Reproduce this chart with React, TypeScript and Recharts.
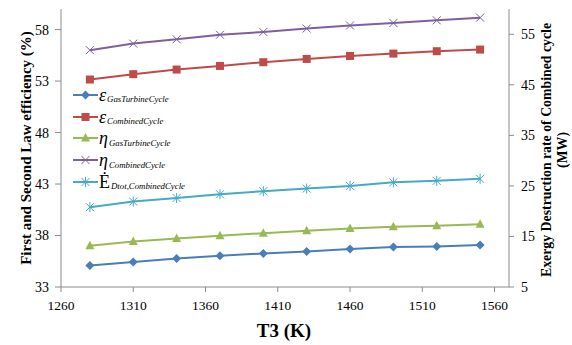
import { LineChart, Line, XAxis, YAxis, Legend } from 'recharts';

// Turbine inlet temperature (K)
const T3 = [1280, 1310, 1340, 1370, 1400, 1430, 1460, 1490, 1520, 1550];

// Efficiencies (%), left axis
const EPS_GT = [35.1, 35.42, 35.77, 36.03, 36.26, 36.45, 36.68, 36.88, 36.93, 37.07];
const EPS_CC = [53.15, 53.67, 54.12, 54.47, 54.83, 55.15, 55.44, 55.67, 55.9, 56.06];
const ETA_GT = [37.0, 37.42, 37.71, 37.97, 38.23, 38.46, 38.68, 38.84, 38.94, 39.1];
const ETA_CC = [56.0, 56.64, 57.06, 57.5, 57.77, 58.1, 58.4, 58.64, 58.9, 59.16];

// Total exergy destruction of the combined cycle (MW), right axis
const ED_CC = [20.8, 21.9, 22.6, 23.35, 23.95, 24.47, 25.0, 25.7, 26.0, 26.4];

const X_TICKS = [1260, 1310, 1360, 1410, 1460, 1510, 1560];
const LEFT_TICKS = [33, 38, 43, 48, 53, 58];
const RIGHT_TICKS = [5, 15, 25, 35, 45, 55];

const data = T3.map((t, i) => ({
  t,
  epsGT: EPS_GT[i],
  epsCC: EPS_CC[i],
  etaGT: ETA_GT[i],
  etaCC: ETA_CC[i],
  edCC: ED_CC[i],
}));

type Shape = 'diamond' | 'square' | 'triangle' | 'cross' | 'star';

const SERIES: {
  key: string;
  color: string;
  shape: Shape;
  axis: string;
  sym: string;
  sub: string;
  italic: boolean;
}[] = [
  { key: 'epsGT', color: '#4a7ebb', shape: 'diamond', axis: 'left', sym: 'ε', sub: 'GasTurbineCycle', italic: true },
  { key: 'epsCC', color: '#be4b48', shape: 'square', axis: 'left', sym: 'ε', sub: 'CombinedCycle', italic: true },
  { key: 'etaGT', color: '#98b954', shape: 'triangle', axis: 'left', sym: 'η', sub: 'GasTurbineCycle', italic: true },
  { key: 'etaCC', color: '#7d60a0', shape: 'cross', axis: 'left', sym: 'η', sub: 'CombinedCycle', italic: true },
  { key: 'edCC', color: '#46aac5', shape: 'star', axis: 'right', sym: 'Ė', sub: 'Dtot,CombinedCycle', italic: false },
];

const SERIF = '"Liberation Serif", "Times New Roman", serif';
const AXIS_GRAY = '#8c8c8c';

function Marker({ shape, cx, cy, color }: { shape: Shape; cx: number; cy: number; color: string }) {
  if (cx == null || cy == null) return null;
  switch (shape) {
    case 'diamond':
      return <path d={`M${cx},${cy - 4.5}L${cx + 4.5},${cy}L${cx},${cy + 4.5}L${cx - 4.5},${cy}Z`} fill={color} />;
    case 'square':
      return <rect x={cx - 4} y={cy - 4} width={8} height={8} fill={color} />;
    case 'triangle':
      return <path d={`M${cx},${cy - 5}L${cx + 4.5},${cy + 3.5}L${cx - 4.5},${cy + 3.5}Z`} fill={color} />;
    case 'cross':
      return (
        <path
          d={`M${cx - 4},${cy - 4}L${cx + 4},${cy + 4}M${cx - 4},${cy + 4}L${cx + 4},${cy - 4}`}
          stroke={color}
          strokeWidth={1}
          fill="none"
        />
      );
    case 'star':
      return (
        <path
          d={`M${cx - 4},${cy - 4}L${cx + 4},${cy + 4}M${cx - 4},${cy + 4}L${cx + 4},${cy - 4}M${cx},${cy - 5}L${cx},${cy + 5}`}
          stroke={color}
          strokeWidth={1}
          fill="none"
        />
      );
  }
  return null;
}

// legend keeps the series order, not the alphabetical one
function SeriesLegend(props: any) {
  const payload: any[] = props.payload ?? [];
  return (
    <div style={{ fontFamily: SERIF }}>
      {SERIES.filter((s) => payload.some((p) => p.dataKey === s.key)).map((s) => (
        <div key={s.key} style={{ display: 'flex', alignItems: 'center', height: 21.7 }}>
          <svg width={25} height={12} style={{ marginRight: 1 }}>
            <line x1={0} y1={6} x2={25} y2={6} stroke={s.color} strokeWidth={2} />
            <Marker shape={s.shape} cx={12.5} cy={6} color={s.color} />
          </svg>
          <span style={{ fontSize: 18, fontStyle: s.italic ? 'italic' : 'normal', lineHeight: 1 }}>{s.sym}</span>
          <span
            style={{
              fontSize: 8.8,
              fontStyle: 'italic',
              lineHeight: 1,
              position: 'relative',
              top: 5,
              marginLeft: 1,
            }}
          >
            {s.sub}
          </span>
        </div>
      ))}
    </div>
  );
}

function LeftTitle() {
  return (
    <text
      transform="translate(26,148) rotate(-90)"
      textAnchor="middle"
      dominantBaseline="central"
      fontFamily={SERIF}
      fontWeight="bold"
      fontSize={15}
      fill="#000"
    >
      First and Second Law efficiency (%)
    </text>
  );
}

function RightTitle() {
  return (
    <text
      transform="translate(546,150) rotate(-90)"
      textAnchor="middle"
      fontFamily={SERIF}
      fontWeight="bold"
      fontSize={13.8}
      fill="#000"
    >
      <tspan x={0} dy="0.35em">Exergy Destruction rate of Combined cycle</tspan>
      <tspan x={0} dy="1.15em">(MW)</tspan>
    </text>
  );
}

function BottomTitle() {
  return (
    <text x={284} y={337} textAnchor="middle" fontFamily={SERIF} fontWeight="bold" fontSize={19} fill="#000">
      T3 (K)
    </text>
  );
}

export default function App() {
  const tick = { fontFamily: SERIF, fontSize: 13.5, fill: '#000' };
  return (
    <div style={{ position: 'absolute', left: 0, top: 0, width: 572, height: 345, background: '#fff' }}>
      <LineChart width={572} height={345} data={data} margin={{ top: 9, right: 0, left: 0, bottom: 0 }}>
        <XAxis
          dataKey="t"
          type="number"
          domain={[1260, 1570]}
          ticks={X_TICKS}
          height={58}
          tick={tick}
          tickSize={5}
          tickMargin={8}
          stroke={AXIS_GRAY}
          label={<BottomTitle />}
        />
        <YAxis
          yAxisId="left"
          domain={[33, 60]}
          ticks={LEFT_TICKS}
          width={61}
          tick={{ ...tick, fontSize: 14 }}
          tickSize={6}
          tickMargin={6}
          stroke={AXIS_GRAY}
          label={<LeftTitle />}
        />
        <YAxis
          yAxisId="right"
          orientation="right"
          domain={[5, 60]}
          ticks={RIGHT_TICKS}
          width={63}
          tick={{ ...tick, fontSize: 14 }}
          tickSize={5}
          tickMargin={7}
          stroke={AXIS_GRAY}
          label={<RightTitle />}
        />
        <Legend
          layout="vertical"
          align="center"
          verticalAlign="middle"
          wrapperStyle={{ left: 73, top: 84, width: 'auto' }}
          content={<SeriesLegend />}
        />
        {SERIES.map((s) => (
          <Line
            key={s.key}
            yAxisId={s.axis}
            dataKey={s.key}
            stroke={s.color}
            strokeWidth={2}
            isAnimationActive={false}
            dot={(p: any) => <Marker key={`${s.key}-${p.index}`} shape={s.shape} cx={p.cx} cy={p.cy} color={s.color} />}
            activeDot={false}
          />
        ))}
      </LineChart>
    </div>
  );
}
